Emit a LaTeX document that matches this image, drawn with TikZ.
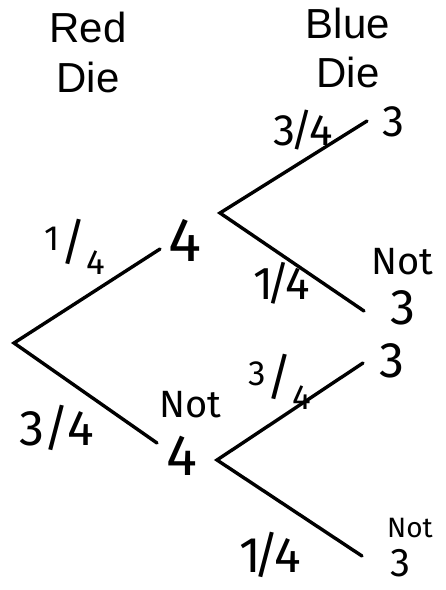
\documentclass[tikz,border=0pt]{standalone}
\usepackage{fontspec}
\setmainfont{Liberation Sans}
\newfontfamily\handfont{Fira Sans}
\usetikzlibrary{positioning}
\begin{document}
\begin{tikzpicture}[x=1pt,y=-1pt,
  branch/.style={line width=3.4pt,line cap=round},
  header/.style={anchor=base,inner sep=0pt,font=\fontsize{42}{50}\selectfont},
  hand/.style={inner sep=0pt,font=\handfont\fontsize{#1}{#1}\selectfont},
  hand/.default=44]
  \useasboundingbox (0,0) rectangle (446,590);
  \node[header] (red) at (88,42) {Red};
  \node[header] (reddie) at (88,92) {Die};
  \node[header] (blue) at (348,38) {Blue};
  \node[header] (bluedie) at (348,87) {Die};
  \coordinate (root) at (14,343);
  \coordinate (fourin) at (160,249);
  \coordinate (fourout) at (220,213);
  \coordinate (notfourin) at (157,443);
  \coordinate (notfourout) at (217,460);
  \coordinate (threea) at (367,121);
  \coordinate (notthreea) at (364,311);
  \coordinate (threeb) at (363,363);
  \coordinate (notthreeb) at (362,556);
  \draw[branch] (fourin) -- (root) -- (notfourin);
  \draw[branch] (threea) -- (fourout) -- (notthreea);
  \draw[branch] (threeb) -- (notfourout) -- (notthreeb);
  \node[hand=62] (four) at (185,240) {4};
  \node[hand=38] (notfourtop) at (190,405) {Not};
  \node[hand=58] (notfourbot) at (182,456) {4};
  \node[hand=44] (ta) at (393,122) {3};
  \node[hand=38] (ntatop) at (402,262) {Not};
  \node[hand=50] (ntabot) at (403,308) {3};
  \node[hand=50] (tb) at (392,361) {3};
  \node[hand=28] (ntbtop) at (410,528) {Not};
  \node[hand=40] (ntbbot) at (400,563) {3};
  \node[hand=50] (pfour) at (75,247) {\textsuperscript{1}/\textsubscript{4}};
  \node[hand=50] (pnotfour) at (57,428) {3/4};
  \node[hand=44] (pthreea) at (303,130) {3\kern-.1em/\kern-.1em4};
  \node[hand=46] (pnotthreea) at (282,283) {1\kern-.15em/\kern-.1em4};
  \node[hand=50] (pthreeb) at (280,382) {\textsuperscript{3}/\textsubscript{4}};
  \node[hand=50] (pnotthreeb) at (270,555) {1\kern-.15em/\kern-.1em4};
\end{tikzpicture}
\end{document}
